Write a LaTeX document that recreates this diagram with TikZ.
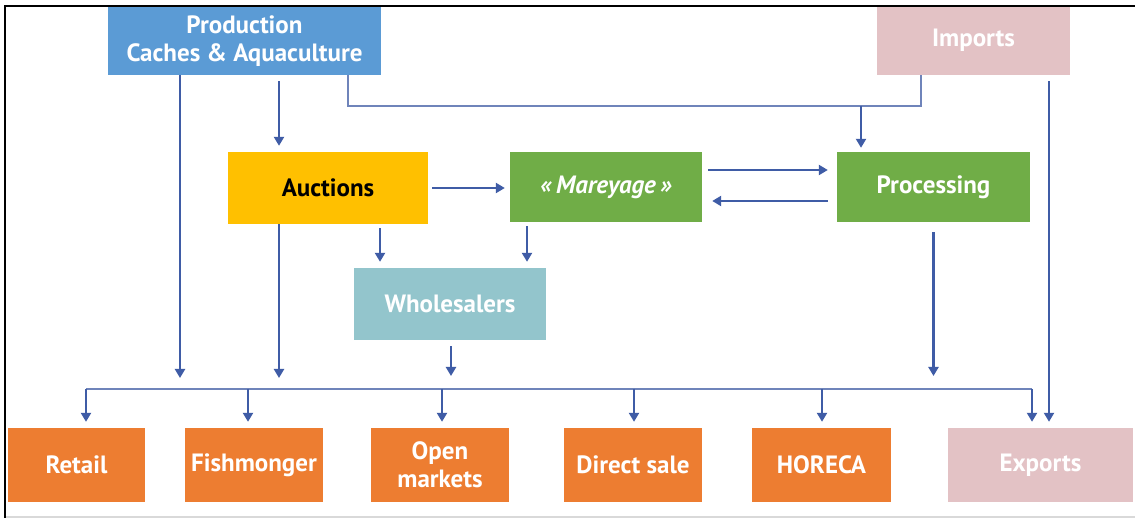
\documentclass[tikz,border=0pt]{standalone}
\usepackage{fontspec}
\setmainfont{PT Sans}
\usetikzlibrary{arrows.meta}
\definecolor{prodblue}{HTML}{5B9BD5}
\definecolor{tradepink}{HTML}{E3C2C5}
\definecolor{auctyellow}{HTML}{FFC000}
\definecolor{tradegreen}{HTML}{70AD47}
\definecolor{wholeteal}{HTML}{93C5CC}
\definecolor{shoporange}{HTML}{ED7D31}
\definecolor{flow}{HTML}{3F5CA6}
\definecolor{flowlight}{HTML}{6F84BA}

\begin{document}
\begin{tikzpicture}[x=1pt, y=-1pt,
    box/.style={inner sep=0pt, align=center, text=white, font=\fontsize{25}{28}\selectfont\bfseries},
    arr/.style={-{Triangle[length=9pt, width=10pt]}, line width=2.2pt, draw=flow},
    link/.style={line width=1.9pt, draw=flowlight}]
        \useasboundingbox (0,0) rectangle (1135,518);
        \fill[white] (0,0) rectangle (1135,518);

        % sources
        \node[box, fill=prodblue, minimum width=273pt, minimum height=68pt] (prod) at (244.5,41) {Production\\Caches \& Aquaculture};
        \node[box, fill=tradepink, minimum width=193pt, minimum height=69pt] (imports) at (973.5,40.5) {Imports};

        % middle of the chain
        \node[box, fill=auctyellow, text=black, minimum width=200pt, minimum height=72pt] (auctions) at (328,188) {Auctions};
        \node[box, fill=tradegreen, minimum width=192pt, minimum height=70pt] (mareyage) at (606,187) {\itshape «\,Mareyage\,»};
        \node[box, fill=tradegreen, minimum width=193pt, minimum height=70pt] (processing) at (933.5,187) {Processing};
        \node[box, fill=wholeteal, minimum width=192pt, minimum height=72pt] (wholesalers) at (450,304) {Wholesalers};

        % outlets
        \node[box, fill=shoporange, minimum width=137pt, minimum height=74pt] (retail) at (76.5,465) {Retail};
        \node[box, fill=shoporange, minimum width=138pt, minimum height=74pt] (fishmonger) at (254,465) {Fishmonger};
        \node[box, fill=shoporange, minimum width=138pt, minimum height=74pt] (openmkt) at (440,465) {Open\\markets};
        \node[box, fill=shoporange, minimum width=138pt, minimum height=74pt] (direct) at (633,465) {Direct sale};
        \node[box, fill=shoporange, minimum width=139pt, minimum height=74pt] (horeca) at (821.5,465) {HORECA};
        \node[box, fill=tradepink, minimum width=185pt, minimum height=74pt] (exports) at (1040.5,465) {Exports};

        \coordinate (merge) at (861,106);
        \coordinate (busL) at (86,389);
        \coordinate (busR) at (1032,389);

        % flows from the top
        \draw[link] ([xshift=103.5pt]prod.south) |- (merge);
        \draw[link] ([xshift=-52.5pt]imports.south) |- (merge);
        \draw[arr, shorten >=4pt] (merge) -- (merge |- processing.north);
        \draw[arr, shorten <=6pt, shorten >=6pt] ([xshift=-49pt]auctions.north |- prod.south) -- ([xshift=-49pt]auctions.north);
        \draw[arr, shorten >=11pt] ([xshift=-64.5pt]prod.south) -- ([xshift=-64.5pt]prod.south |- busL);
        \draw[arr, shorten <=6pt, shorten >=6pt] ([xshift=75.5pt]imports.south) -- ([xshift=75.5pt]imports.south |- exports.north);

        % middle flows
        \draw[arr, shorten <=4pt, shorten >=5pt] (auctions.east) -- (auctions.east -| mareyage.west);
        \draw[arr, shorten <=6pt, shorten >=9pt] ([yshift=17pt]mareyage.east) -- ([yshift=17pt]mareyage.east -| processing.west);
        \draw[arr, shorten <=9pt, shorten >=10pt] ([yshift=-14pt]processing.west) -- ([yshift=-14pt]processing.west -| mareyage.east);
        \draw[arr, shorten <=4pt, shorten >=6pt] ([xshift=52pt]auctions.south) -- ([xshift=52pt]auctions.south |- wholesalers.north);
        \draw[arr, shorten <=4pt, shorten >=6pt] ([xshift=-79pt]mareyage.south) -- ([xshift=-79pt]mareyage.south |- wholesalers.north);
        \draw[arr, shorten >=11pt] ([xshift=-49pt]auctions.south) -- ([xshift=-49pt]auctions.south |- busL);
        \draw[arr, shorten <=6pt, shorten >=13pt] ([xshift=1pt]wholesalers.south) -- ([xshift=1pt]wholesalers.south |- busL);
        \draw[arr, shorten <=10pt, shorten >=13pt] (processing.south) -- (processing.south |- busL);

        % distribution bus
        \draw[link] (busL) -- (busR);
        \foreach \n/\dx in {retail/9.5, fishmonger/-6, openmkt/2, direct/1, horeca/0.5, exports/-8.5}
          \draw[arr, shorten >=6pt] ([xshift=\dx pt]\n.north |- busL) -- ([xshift=\dx pt]\n.north);

        % frame
        \draw[black!15, line width=1.5pt] (5,517) -- (1135,517);
        \draw[black, line width=2pt] (5,518) -- (5,6) -- (1135,6);
      \end{tikzpicture}
\end{document}
